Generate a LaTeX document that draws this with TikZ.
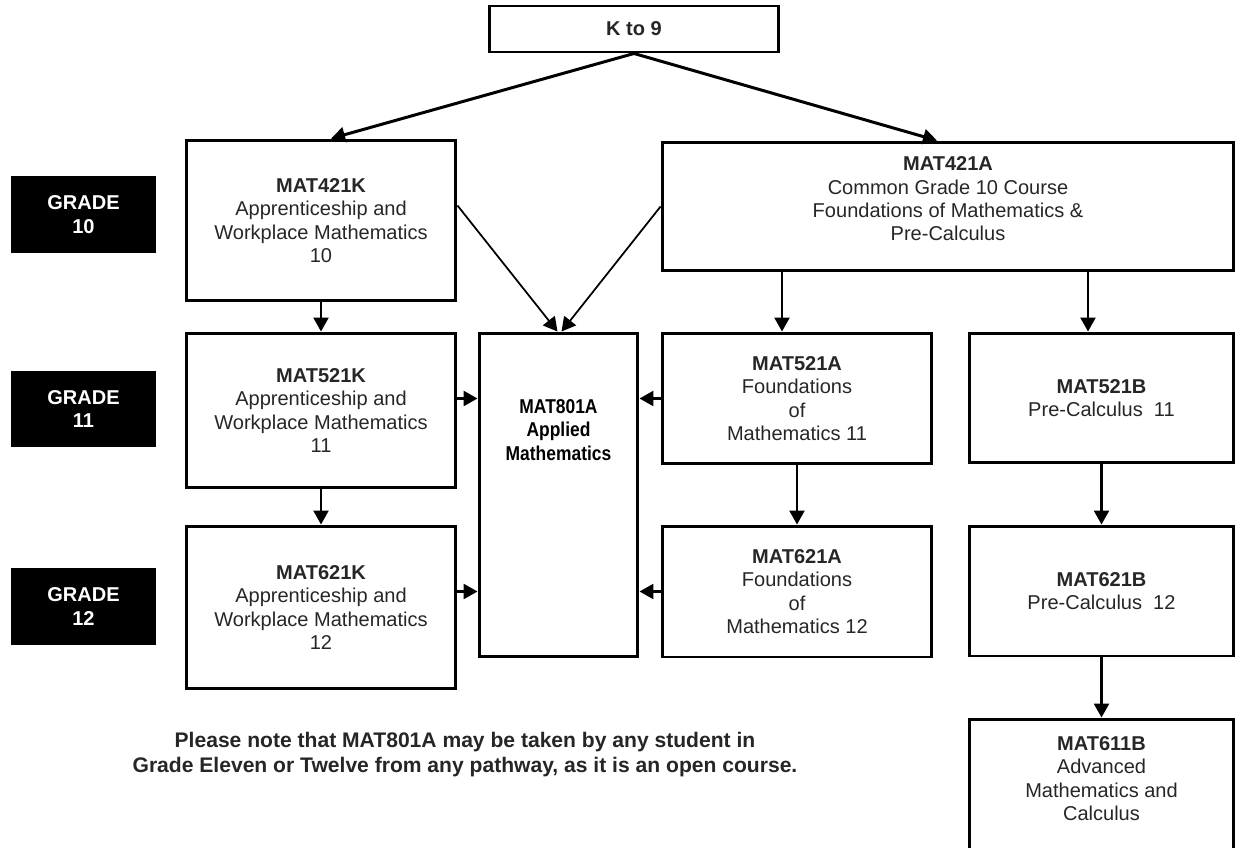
\documentclass[tikz,border=0pt]{standalone}
\usepackage{fontspec}
\setmainfont{Liberation Sans}
\newfontfamily\narrowfont[FakeStretch=0.87]{Liberation Sans}
\usetikzlibrary{arrows.meta}

\begin{document}
\begin{tikzpicture}[x=0.02cm, y=-0.02cm,
	course/.style={draw=black, line width=1.7pt, align=center, inner sep=0pt,
		font=\fontsize{11.4}{13.3}\selectfont, text=black!85},
	label/.style={align=center, inner sep=0pt, font=\fontsize{11.4}{13.3}\selectfont, text=black!85},
	grade/.style={fill=black, text=white, align=center, minimum width=2.9cm,
		minimum height=1.54cm, font=\bfseries\fontsize{11.4}{13.3}\selectfont},
	link/.style={line width=1.4pt, -{Triangle[length=0.28cm, width=0.3cm]}}]
	\useasboundingbox (0, 0) rectangle (1237, 848);

	% grade labels
	\draw (83.5, 214.5) node[grade] (g10) {GRADE\\10};
	\draw (83.5, 409) node[grade] (g11) {GRADE\\11};
	\draw (83.5, 606.5) node[grade] (g12) {GRADE\\12};

	% courses
	\draw (634, 29) node[course, minimum width=5.8cm, minimum height=0.92cm] (k9) {\textbf{K to 9}};
	\draw (321, 220.5) node[course, minimum width=5.4cm, minimum height=3.22cm] (m421k)
		{\textbf{MAT421K}\\Apprenticeship and\\Workplace Mathematics\\10};
	\draw (948, 206.5) node[course, minimum width=11.44cm, minimum height=2.58cm] (m421a) {};
	\draw (948, 199) node[label] (m421a-text)
		{\textbf{MAT421A}\\Common Grade 10 Course\\Foundations of Mathematics \&\\Pre-Calculus};
	\draw (321, 410.5) node[course, minimum width=5.4cm, minimum height=3.1cm] (m521k)
		{\textbf{MAT521K}\\Apprenticeship and\\Workplace Mathematics\\11};
	\draw (558.5, 495) node[course, minimum width=3.18cm, minimum height=6.48cm] (m801a) {};
	\draw (558.5, 430) node[label, font=\narrowfont\bfseries\fontsize{11.4}{13.6}\selectfont, text=black] (m801a-text)
		{MAT801A\\Applied\\Mathematics};
	\draw (797, 398.5) node[course, minimum width=5.4cm, minimum height=2.62cm] (m521a)
		{\textbf{MAT521A}\\Foundations\\of\\Mathematics 11};
	\draw (1101.5, 398) node[course, minimum width=5.3cm, minimum height=2.6cm] (m521b)
		{\textbf{MAT521B}\\Pre-Calculus~~11};
	\draw (321, 607.5) node[course, minimum width=5.4cm, minimum height=3.26cm] (m621k)
		{\textbf{MAT621K}\\Apprenticeship and\\Workplace Mathematics\\12};
	\draw (797, 591.5) node[course, minimum width=5.4cm, minimum height=2.62cm] (m621a)
		{\textbf{MAT621A}\\Foundations\\of\\Mathematics 12};
	\draw (1101.5, 591) node[course, minimum width=5.3cm, minimum height=2.6cm] (m621b)
		{\textbf{MAT621B}\\Pre-Calculus~~12};
	\begin{scope}
		\clip (0, 0) rectangle (1237, 848);
		\draw (1101.5, 799) node[course, minimum width=5.3cm, minimum height=3.2cm] (m611b) {};
	\end{scope}
	\draw (1101.5, 778.5) node[label] (m611b-text)
		{\textbf{MAT611B}\\Advanced\\Mathematics and\\Calculus};

	% note
	\draw (465, 754.5) node[label, font=\bfseries\fontsize{12}{14.2}\selectfont] (note)
		{Please note that MAT801A may be taken by any student in\\Grade Eleven or Twelve from any pathway, as it is an open course.};

	% pathways
	\draw[link, line width=1.7pt] (k9.south) -- ([xshift=0.2cm]m421k.north);
	\draw[link, line width=1.7pt] (k9.south) -- ([xshift=-0.22cm]m421a.north);
	\draw[link, line width=1pt] ([yshift=0.3cm]m421k.east) -- ([xshift=-0.02cm]m801a.north);
	\draw[link, line width=1pt] (m421a.west) -- ([xshift=0.06cm]m801a.north);
	\draw[link] (m421k) -- (m521k);
	\draw[link] (m521k) -- (m621k);
	\draw[link] ([xshift=-0.3cm]m521a.north |- m421a.south) -- ([xshift=-0.3cm]m521a.north);
	\draw[link] ([xshift=-0.27cm]m521b.north |- m421a.south) -- ([xshift=-0.27cm]m521b.north);
	\draw[link] (m521a) -- (m621a);
	\draw[link] (m521b) -- (m621b);
	\draw[link] (m621b) -- (m611b);
	\draw[link] (m521k.east |- m521a.west) -- (m801a.west |- m521a.west);
	\draw[link] (m621k.east |- m621a.west) -- (m801a.west |- m621a.west);
	\draw[link] (m521a.west) -- (m801a.east |- m521a.west);
	\draw[link] (m621a.west) -- (m801a.east |- m621a.west);
\end{tikzpicture}
\end{document}
